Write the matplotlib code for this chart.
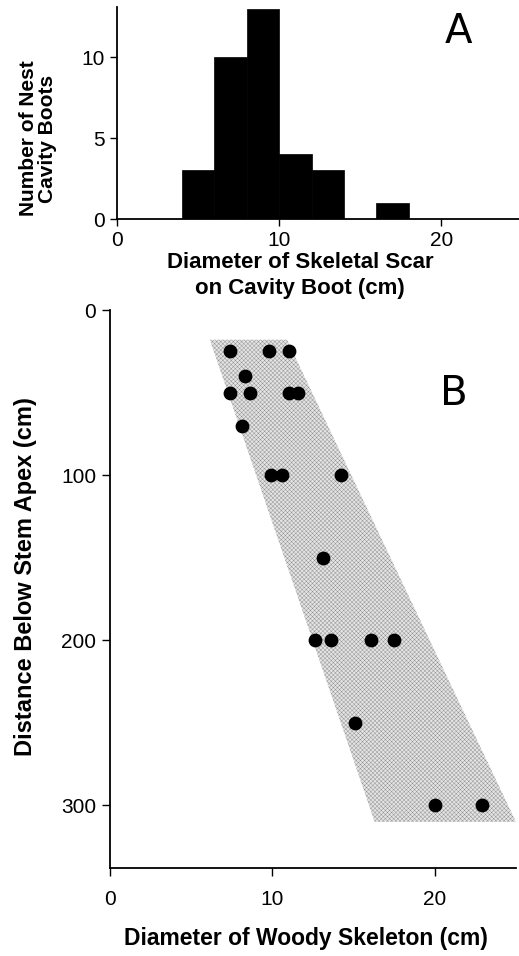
import numpy as np
import matplotlib
matplotlib.use("Agg")
import matplotlib.pyplot as plt

# panel A: histogram of scar diameters (2 cm bins)
bin_edges = [4, 6, 8, 10, 12, 14, 16, 18]
bin_counts = [3, 10, 13, 4, 3, 0, 1]

# panel B: diameter of woody skeleton vs distance below apex
diam = [7.4, 9.8, 11.0, 8.3, 7.4, 8.6, 11.05, 11.6, 8.1, 9.9, 10.6, 14.2,
        13.1, 12.6, 13.6, 16.1, 17.5, 15.1, 20.0, 22.9]
dist = [25, 25, 25, 40, 50, 50, 50, 50, 70, 100, 100, 100,
        150, 200, 200, 200, 200, 250, 300, 300]

# shaded band (corners: x, y)
band_x = [6.15, 10.9, 25.0, 16.3]
band_y = [18, 18, 310, 310]

plt.rcParams['font.family'] = ['Liberation Sans', 'DejaVu Sans']
plt.rcParams['hatch.linewidth'] = 0.3

fig = plt.figure(figsize=(5.19, 9.56), dpi=100)

# ---- A ----
axA = fig.add_axes([0.2254, 0.7709, 0.7746, 0.2218])
widths = np.diff(bin_edges)
axA.bar(bin_edges[:-1], bin_counts, width=widths, align='edge',
        color='black', edgecolor='black', linewidth=0.5)
axA.set_xlim(0, 24.8)
axA.set_ylim(0, 13.1)
axA.set_xticks([0, 10, 20])
axA.set_yticks([0, 5, 10])
for s in ['top', 'right']:
    axA.spines[s].set_visible(False)
axA.spines['left'].set_linewidth(1.3)
axA.spines['bottom'].set_linewidth(1.3)
axA.tick_params(labelsize=15, length=5, width=1)
axA.set_xlabel('Diameter of Skeletal Scar\non Cavity Boot (cm)',
               fontsize=16, fontweight='bold', linespacing=1.3)
axA.xaxis.set_label_coords(0.455, -0.155)
axA.set_ylabel('Number of Nest\nCavity Boots', fontsize=15,
               fontweight='bold', linespacing=0.95)
axA.yaxis.set_label_coords(-0.15, 0.38)
axA.text(0.816, 0.83, 'A', transform=axA.transAxes, fontsize=29,
         family='DejaVu Sans', ha='left', va='baseline')

# ---- B ----
axB = fig.add_axes([0.212, 0.092, 0.782, 0.5837])
axB.fill(band_x, band_y, facecolor='#e4e4e4', edgecolor='#8c8c8c',
         hatch='xxxxxxxx', linewidth=0)
axB.scatter(diam, dist, s=80, color='black', zorder=3)
axB.set_xlim(0, 25)
axB.set_ylim(338, 0)
axB.set_xticks([0, 10, 20])
axB.set_yticks([0, 100, 200, 300])
for s in ['top', 'right']:
    axB.spines[s].set_visible(False)
axB.spines['left'].set_linewidth(1.3)
axB.spines['bottom'].set_linewidth(1.3)
axB.tick_params(labelsize=15, length=6, width=1)
axB.tick_params(axis='x', pad=10)
axB.tick_params(axis='y', pad=4)
axB.set_xlabel('Diameter of Woody Skeleton (cm)', fontsize=16.5,
               fontweight='bold')
axB.xaxis.set_label_coords(0.483, -0.105)
axB.set_ylabel('Distance Below Stem Apex (cm)', fontsize=17,
               fontweight='bold')
axB.yaxis.set_label_coords(-0.18, 0.523)
axB.text(0.813, 0.83, 'B', transform=axB.transAxes, fontsize=29,
         family='DejaVu Sans', ha='left', va='baseline')

fig.savefig('out.png', dpi=100)
